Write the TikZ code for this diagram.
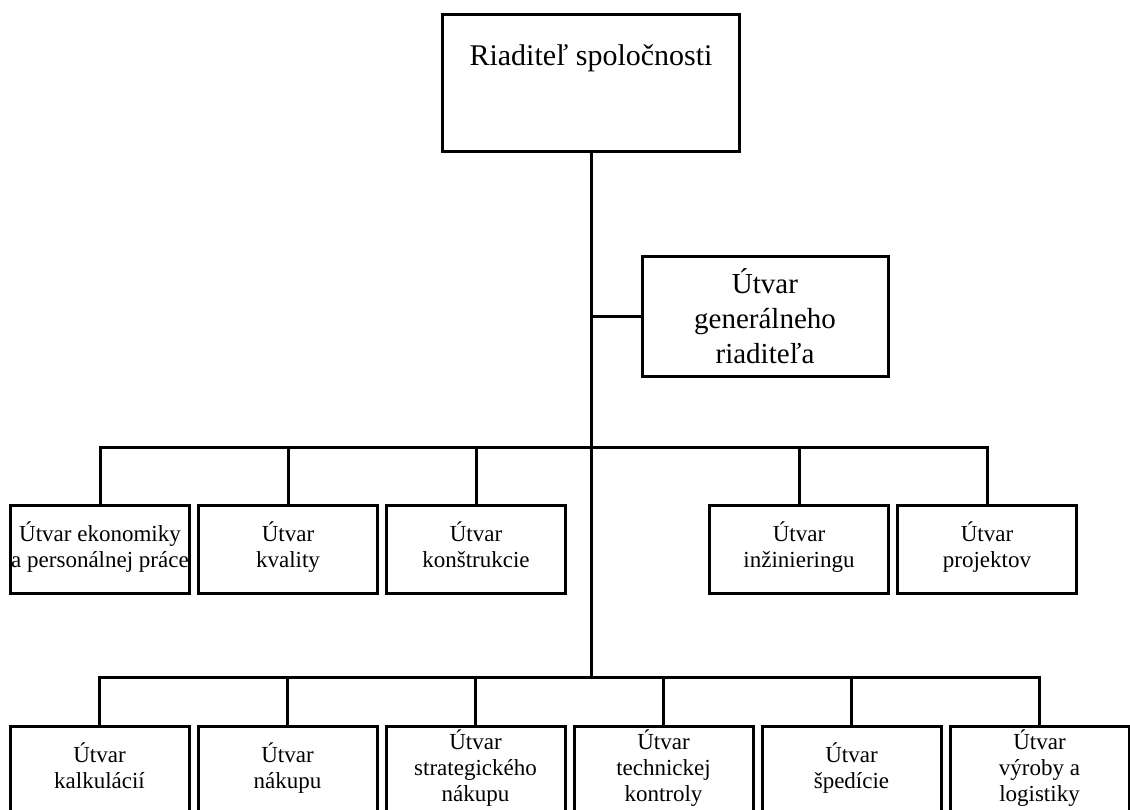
\documentclass[tikz,border=0pt]{standalone}
\usepackage{fontspec}
\setmainfont{Liberation Serif}
\usepackage{tikz}

\begin{document}
\begin{tikzpicture}[x=1pt, y=-1pt, line width=3pt, line join=miter,
  headbox/.style={draw, inner sep=0pt, minimum width=297pt, text height=51pt, text depth=86pt, font=\fontsize{30}{34}\selectfont},
  genbox/.style={draw, align=center, inner sep=0pt, minimum width=246pt, minimum height=120pt, font=\fontsize{29}{35}\selectfont},
  unit/.style={draw, align=center, inner sep=0pt, minimum width=179pt, minimum height=88pt, font=\fontsize{23}{26}\selectfont,
    execute at begin node=\strut, execute at end node=\strut}]
\useasboundingbox (0,0) rectangle (1130,809);
\clip (0,0) rectangle (1130,809);
% top of the chart
\node[headbox] (dir) at (591,82.5) {Riaditeľ spoločnosti};
\node[genbox] (gen) at (765,316) {Útvar\\generálneho\\riaditeľa};
% first row of units
\node[unit] (u1) at (100,549) {Útvar ekonomiky\\a personálnej práce};
\node[unit] (u2) at (288,549) {Útvar\\kvality};
\node[unit] (u3) at (476,549) {Útvar\\konštrukcie};
\node[unit] (u4) at (799,549) {Útvar\\inžinieringu};
\node[unit] (u5) at (987,549) {Útvar\\projektov};
% second row of units
\node[unit] (v1) at (99.5,770) {Útvar\\kalkulácií};
\node[unit] (v2) at (287.5,770) {Útvar\\nákupu};
\node[unit] (v3) at (475.5,770) {Útvar\\strategického\\nákupu};
\node[unit] (v4) at (663.5,770) {Útvar\\technickej\\kontroly};
\node[unit] (v5) at (851.5,770) {Útvar\\špedície};
\node[unit] (v6) at (1039.5,770) {Útvar\\výroby a\\logistiky};
% trunk and buses
\coordinate (busA) at (591,447);
\coordinate (busB) at (591,677);
\draw (dir.south) -- (busB);
\draw (gen.west) -- (gen.west -| dir.south);
\draw (u1.north) -- (u1.north |- busA) -- (u5.north |- busA) -- (u5.north);
\foreach \n in {u2,u3,u4} \draw (\n.north) -- (\n.north |- busA);
\draw (v1.north) -- (v1.north |- busB) -- (v6.north |- busB) -- (v6.north);
\foreach \n in {v2,v3,v4,v5} \draw (\n.north) -- (\n.north |- busB);
\end{tikzpicture}
\end{document}
